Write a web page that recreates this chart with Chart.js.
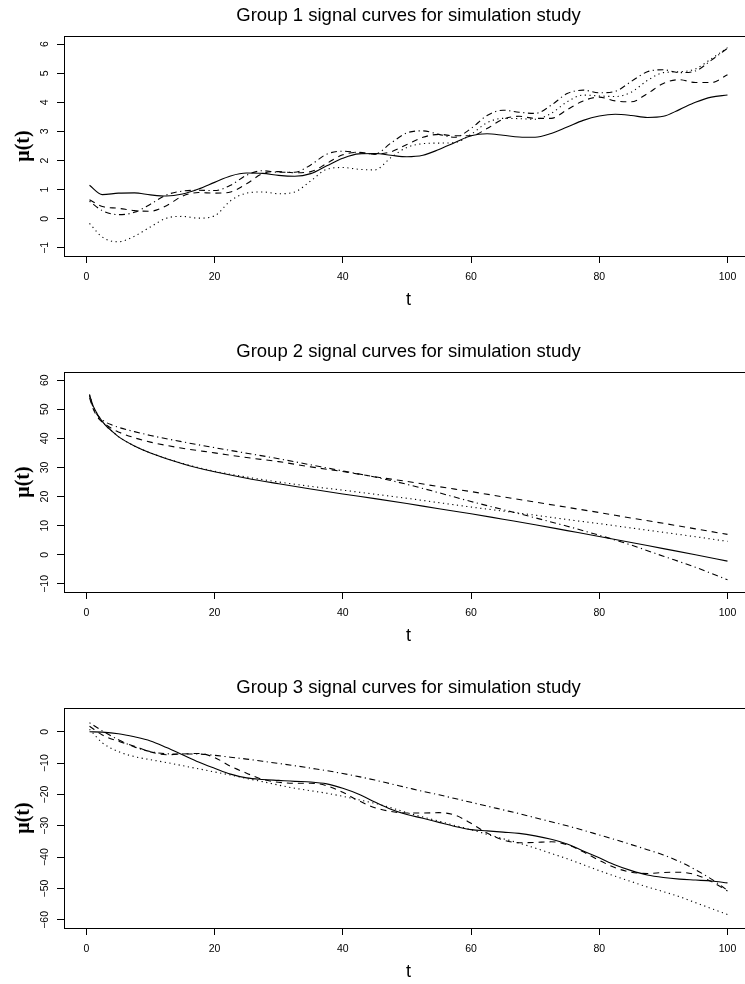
<!DOCTYPE html>
<html>
<head>
<meta charset="utf-8">
<script src="https://cdn.jsdelivr.net/npm/chart.js@4.4.1/dist/chart.umd.min.js"></script>
<style>
  html, body { margin: 0; padding: 0; background: #fff; width: 745px; height: 984px; overflow: hidden; }
  canvas { position: absolute; left: 0; }
</style>
</head>
<body>
<canvas id="g1" width="753" height="320" style="top:0px"></canvas>
<canvas id="g2" width="753" height="320" style="top:336px"></canvas>
<canvas id="g3" width="753" height="320" style="top:672px"></canvas>
<script>
// time grids (groups 1 and 3 are wavy, group 2 drops fast at the start)
const tWavy = [0.5, 2.5, 5, 7.5, 10, 12.5, 15, 17.5, 20, 22.5, 25, 27.5, 30, 32.5, 35, 37.5, 40, 42.5, 45, 47.5,
  50, 52.5, 55, 57.5, 60, 62.5, 65, 67.5, 70, 72.5, 75, 77.5, 80, 82.5, 85, 87.5, 90, 92.5, 95, 97.5, 100];
const tDecay = [0.5, 1, 1.5, 2, 3, 4, 5, 7.5, 10, 15, 20, 25, 30, 35, 40, 45, 50, 55, 60, 65, 70, 75, 80, 85, 90, 95, 100];

// Group 1
const g1Solid = [1.15, 0.83, 0.88, 0.89, 0.82, 0.78, 0.85, 1.02, 1.25, 1.47, 1.57, 1.56, 1.49, 1.46, 1.55, 1.82, 2.08, 2.23, 2.24, 2.18,
  2.13, 2.18, 2.38, 2.62, 2.85, 2.92, 2.87, 2.81, 2.80, 2.93, 3.15, 3.38, 3.53, 3.59, 3.55, 3.48, 3.52, 3.75, 4.00, 4.18, 4.25];
const g1Dashed = [0.65, 0.42, 0.36, 0.28, 0.26, 0.45, 0.78, 0.90, 0.88, 0.92, 1.20, 1.55, 1.62, 1.58, 1.62, 1.90, 2.20, 2.28, 2.22, 2.30,
  2.55, 2.80, 2.90, 2.85, 2.85, 3.10, 3.42, 3.52, 3.45, 3.45, 3.75, 4.05, 4.18, 4.05, 4.02, 4.30, 4.65, 4.78, 4.68, 4.68, 4.95];
const g1Dotted = [-0.16, -0.63, -0.79, -0.60, -0.28, 0.02, 0.08, 0.02, 0.10, 0.62, 0.88, 0.92, 0.86, 0.92, 1.30, 1.70, 1.76, 1.70, 1.68, 2.10,
  2.45, 2.58, 2.60, 2.62, 2.90, 3.30, 3.45, 3.44, 3.42, 3.62, 4.02, 4.25, 4.22, 4.20, 4.35, 4.75, 5.02, 5.05, 5.15, 5.50, 5.88];
const g1DotDash = [0.60, 0.28, 0.14, 0.22, 0.50, 0.82, 0.95, 0.98, 0.97, 1.15, 1.50, 1.65, 1.60, 1.60, 1.85, 2.22, 2.32, 2.27, 2.22, 2.60,
  2.95, 3.02, 2.90, 2.80, 3.10, 3.55, 3.73, 3.66, 3.62, 3.90, 4.30, 4.42, 4.33, 4.38, 4.72, 5.05, 5.12, 5.02, 5.08, 5.45, 5.86];

// Group 2
const g2Solid = [55.0, 51.5, 49.2, 47.3, 44.5, 42.5, 40.6, 37.4, 35.0, 31.3, 28.5, 26.3, 24.4, 22.6, 20.9, 19.3, 17.6, 15.8, 14.1, 12.2,
  10.3, 8.3, 6.3, 4.2, 2.1, 0.0, -2.2];
const g2Dashed = [54.0, 50.5, 48.2, 46.6, 44.8, 43.3, 42.2, 40.2, 38.7, 36.6, 35.0, 33.4, 32.0, 30.2, 28.6, 26.8, 25.2, 23.4, 21.7, 19.9,
  18.1, 16.3, 14.5, 12.6, 10.8, 8.9, 7.0];
const g2Dotted = [55.0, 51.5, 49.2, 47.3, 44.5, 42.5, 40.6, 37.4, 35.0, 31.4, 28.7, 26.7, 25.0, 23.5, 22.2, 20.8, 19.4, 17.9, 16.4, 15.0,
  13.6, 12.1, 10.7, 9.2, 7.7, 6.2, 4.6];
const g2DotDash = [54.5, 51.0, 48.8, 47.2, 45.6, 44.6, 43.8, 42.3, 41.0, 38.8, 36.8, 34.9, 33.0, 30.9, 28.8, 26.7, 24.2, 21.3, 18.3, 15.5,
  12.7, 9.8, 6.7, 3.3, -0.5, -4.3, -8.6];

// Group 3
const g3Solid = [0.0, -0.1, -0.6, -1.6, -2.9, -5.0, -7.3, -9.6, -11.6, -13.5, -14.7, -15.2, -15.5, -15.8, -16.0, -16.6, -18.0, -19.9, -22.4, -24.7,
  -26.4, -27.6, -28.9, -30.2, -31.2, -31.6, -32.0, -32.4, -33.2, -34.3, -35.8, -38.0, -40.2, -42.5, -44.3, -45.7, -46.5, -47.0, -47.3, -47.6, -48.2];
const g3Dashed = [1.8, -1.0, -3.0, -4.6, -6.4, -7.3, -7.1, -6.9, -8.2, -11.0, -13.2, -15.2, -16.1, -16.4, -16.4, -17.2, -19.3, -22.0, -24.2, -25.4,
  -25.9, -25.9, -25.8, -26.6, -29.2, -32.3, -34.5, -35.4, -35.3, -35.1, -36.0, -38.3, -41.0, -43.4, -44.8, -45.2, -44.9, -44.8, -45.6, -47.8, -50.8];
const g3Dotted = [0.8, -3.5, -6.3, -7.9, -8.9, -9.8, -10.8, -11.8, -12.8, -13.8, -14.9, -15.9, -17.0, -18.0, -18.8, -19.6, -20.6, -21.7, -22.8, -24.2,
  -25.8, -27.2, -28.5, -29.9, -31.2, -32.7, -34.1, -35.5, -37.1, -38.8, -40.5, -42.4, -44.3, -46.1, -47.8, -49.5, -51.0, -52.6, -54.5, -56.4, -58.3];
const g3DotDash = [2.9, 0.3, -2.5, -4.8, -6.3, -7.0, -7.1, -7.1, -7.5, -8.1, -8.7, -9.4, -10.1, -10.8, -11.6, -12.4, -13.3, -14.3, -15.4, -16.6,
  -17.8, -19.0, -20.1, -21.3, -22.5, -23.7, -24.9, -26.1, -27.4, -28.7, -30.0, -31.4, -32.9, -34.4, -36.0, -37.6, -39.3, -41.4, -44.0, -47.0, -50.6];

// axes
const xLim = [0.5, 100];
const xTicks = [0, 20, 40, 60, 80, 100];
const g1Lim = [-1, 6];
const g1Ticks = [-1, 0, 1, 2, 3, 4, 5, 6];
const g2Lim = [-10, 60];
const g2Ticks = [-10, 0, 10, 20, 30, 40, 50, 60];
const g3Lim = [-60, 5];
const g3Ticks = [-60, -50, -40, -30, -20, -10, 0];

// solid, dashed, dotted, dot-dash (R lty 1..4)
const lineDash = [[], [6, 5], [1.2, 3.5], [1.2, 3.5, 6, 3.5]];

const sans = "'Liberation Sans', Arial, Helvetica, sans-serif";

//plot frame like R's box()
const boxPlugin = {
  id: 'box',
  afterDatasetsDraw(chart) {
    const { ctx, chartArea: a } = chart;
    ctx.save();
    ctx.strokeStyle = '#000';
    ctx.lineWidth = 1;
    ctx.strokeRect(Math.round(a.left) + 0.5, Math.round(a.top) + 0.5, Math.round(a.right - a.left), Math.round(a.bottom - a.top));
    ctx.restore();
  },
};

const minus = (v) => String(v).replace('-', '\u2212');

function makeChart(id, title, t, series, yLim, yTicks, yPad) {
  const xSpan = xLim[1] - xLim[0];
  const ySpan = yLim[1] - yLim[0];
  return new Chart(document.getElementById(id), {
    type: 'line',
    data: {
      datasets: series.map((s, i) => ({
        data: t.map((x, j) => ({ x: x, y: s[j] })),
        borderColor: '#000',
        borderWidth: 1.1,
        borderDash: lineDash[i],
        pointRadius: 0,
        cubicInterpolationMode: 'monotone',
        fill: false,
      })),
    },
    options: {
      responsive: false,
      animation: false,
      events: [],
      layout: { padding: 0 },
      plugins: {
        legend: { display: false },
        tooltip: { enabled: false },
        title: {
          display: true,
          text: title,
          color: '#000',
          fullSize: false,
          font: { family: sans, size: 18.5, weight: 'normal', lineHeight: 1.2 },
          padding: { top: 4.6, bottom: 9.2 },
        },
      },
      scales: {
        x: {
          type: 'linear',
          min: xLim[0] - 0.04 * xSpan,
          max: xLim[1] + 0.04 * xSpan,
          afterBuildTicks: (s) => { s.ticks = xTicks.map((v) => ({ value: v })); },
          afterFit: (s) => { s.height = 64; },
          border: { display: false },
          grid: { drawOnChartArea: false, drawTicks: true, tickLength: 7, color: '#000', lineWidth: 1 },
          ticks: { color: '#000', font: { family: sans, size: 10.5 }, padding: 7.7, maxRotation: 0, autoSkip: false, callback: minus },
          title: { display: true, text: 't', color: '#000', font: { family: sans, size: 18, lineHeight: 1.2 }, padding: { top: 0, bottom: 9.2 } },
        },
        y: {
          type: 'linear',
          min: yLim[0] - 0.04 * ySpan,
          max: yLim[1] + 0.04 * ySpan,
          afterBuildTicks: (s) => { s.ticks = yTicks.map((v) => ({ value: v })); },
          afterFit: (s) => { s.width = 64; },
          border: { display: false },
          grid: { drawOnChartArea: false, drawTicks: true, tickLength: 7, color: '#000', lineWidth: 1 },
          ticks: {
            color: '#000', font: { family: sans, size: 10.5 }, padding: yPad,
            minRotation: 90, maxRotation: 90, crossAlign: 'center', autoSkip: false, callback: minus,
          },
          title: {
            display: true, text: '\u03bc(t)', color: '#000',
            font: { family: "'Liberation Serif', 'Times New Roman', serif", size: 20, weight: 'bold', lineHeight: 1.2 },
            padding: { top: 12, bottom: 0 },
          },
        },
      },
    },
    plugins: [boxPlugin],
  });
}

makeChart('g1', 'Group 1 signal curves for simulation study', tWavy, [g1Solid, g1Dashed, g1Dotted, g1DotDash], g1Lim, g1Ticks, 6);
makeChart('g2', 'Group 2 signal curves for simulation study', tDecay, [g2Solid, g2Dashed, g2Dotted, g2DotDash], g2Lim, g2Ticks, 3);
makeChart('g3', 'Group 3 signal curves for simulation study', tWavy, [g3Solid, g3Dashed, g3Dotted, g3DotDash], g3Lim, g3Ticks, 3);
</script>
</body>
</html>
